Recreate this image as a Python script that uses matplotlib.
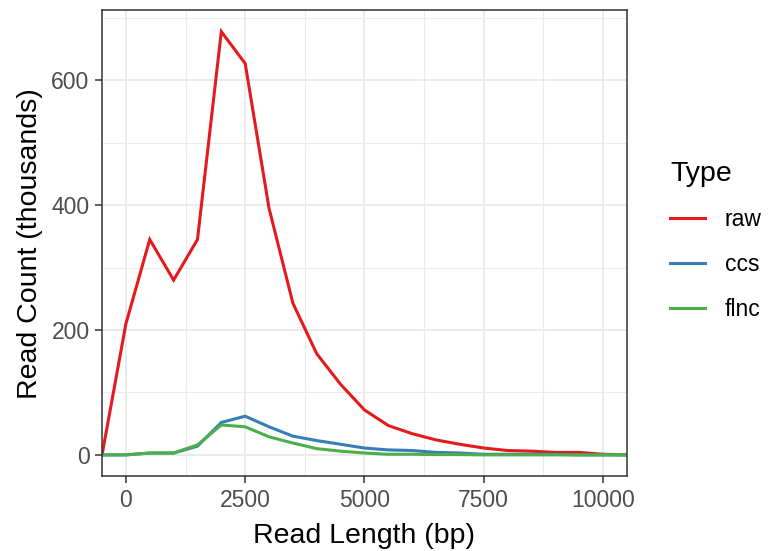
import matplotlib.pyplot as plt
from matplotlib.ticker import MultipleLocator

plt.rcParams['font.family'] = ['Liberation Sans', 'DejaVu Sans']

# read length bins (bp)
read_length = [-500, 0, 500, 1000, 1500, 2000, 2500, 3000, 3500, 4000, 4500,
               5000, 5500, 6000, 6500, 7000, 7500, 8000, 8500, 9000, 9500,
               10000, 10500]

# read counts in thousands
raw = [0, 210, 345, 280, 345, 678, 627, 395, 243, 162, 113,
       72, 47, 34, 24, 17, 11, 7, 6, 4, 4, 1, 0]
ccs = [0, 0, 3, 3, 14, 52, 62, 45, 30, 23, 17,
       11, 8, 7, 4, 3, 1, 1, 1, 1, 0, 0, 0]
flnc = [0, 0, 3, 3, 16, 48, 45, 29, 19, 10, 6,
        3, 1, 1, 0.5, 0.5, 0, 0, 0, 0, 0, 0, 0]

types = ['raw', 'ccs', 'flnc']
colors = ['#E41A1C', '#377EB8', '#4DAF4A']

fig = plt.figure(figsize=(7.73, 5.51), dpi=100)
ax = fig.add_axes([0.132, 0.136, 0.679, 0.845])

for name, vals, col in zip(types, [raw, ccs, flnc], colors):
    ax.plot(read_length, vals, color=col, lw=2.2, label=name,
            solid_joinstyle='miter')

ax.set_xlim(-500, 10500)
ymax = max(raw)
ax.set_ylim(-0.05 * ymax, 1.05 * ymax)

ax.xaxis.set_major_locator(MultipleLocator(2500))
ax.xaxis.set_minor_locator(MultipleLocator(1250))
ax.yaxis.set_major_locator(MultipleLocator(200))
ax.yaxis.set_minor_locator(MultipleLocator(100))

ax.grid(which='major', color='#EBEBEB', lw=1.4)
ax.grid(which='minor', color='#EBEBEB', lw=0.8)
ax.set_axisbelow(True)

for s in ax.spines.values():
    s.set_color('#333333')
    s.set_linewidth(1.1)

ax.tick_params(which='major', length=5, width=1.1, color='#333333',
               labelsize=16.5, labelcolor='#4D4D4D', pad=4)
ax.tick_params(which='minor', length=0)

ax.set_xlabel('Read Length (bp)', fontsize=20.5, labelpad=8)
ax.set_ylabel('Read Count (thousands)', fontsize=20.5, labelpad=6)

leg = ax.legend(title='Type', loc='center left', bbox_to_anchor=(0.84, 0.563),
                bbox_transform=fig.transFigure, frameon=False,
                fontsize=16.5, title_fontsize=20.5, handlelength=1.55,
                handletextpad=0.85, labelspacing=0.95, alignment='left')

fig.savefig('out.png', dpi=100)
